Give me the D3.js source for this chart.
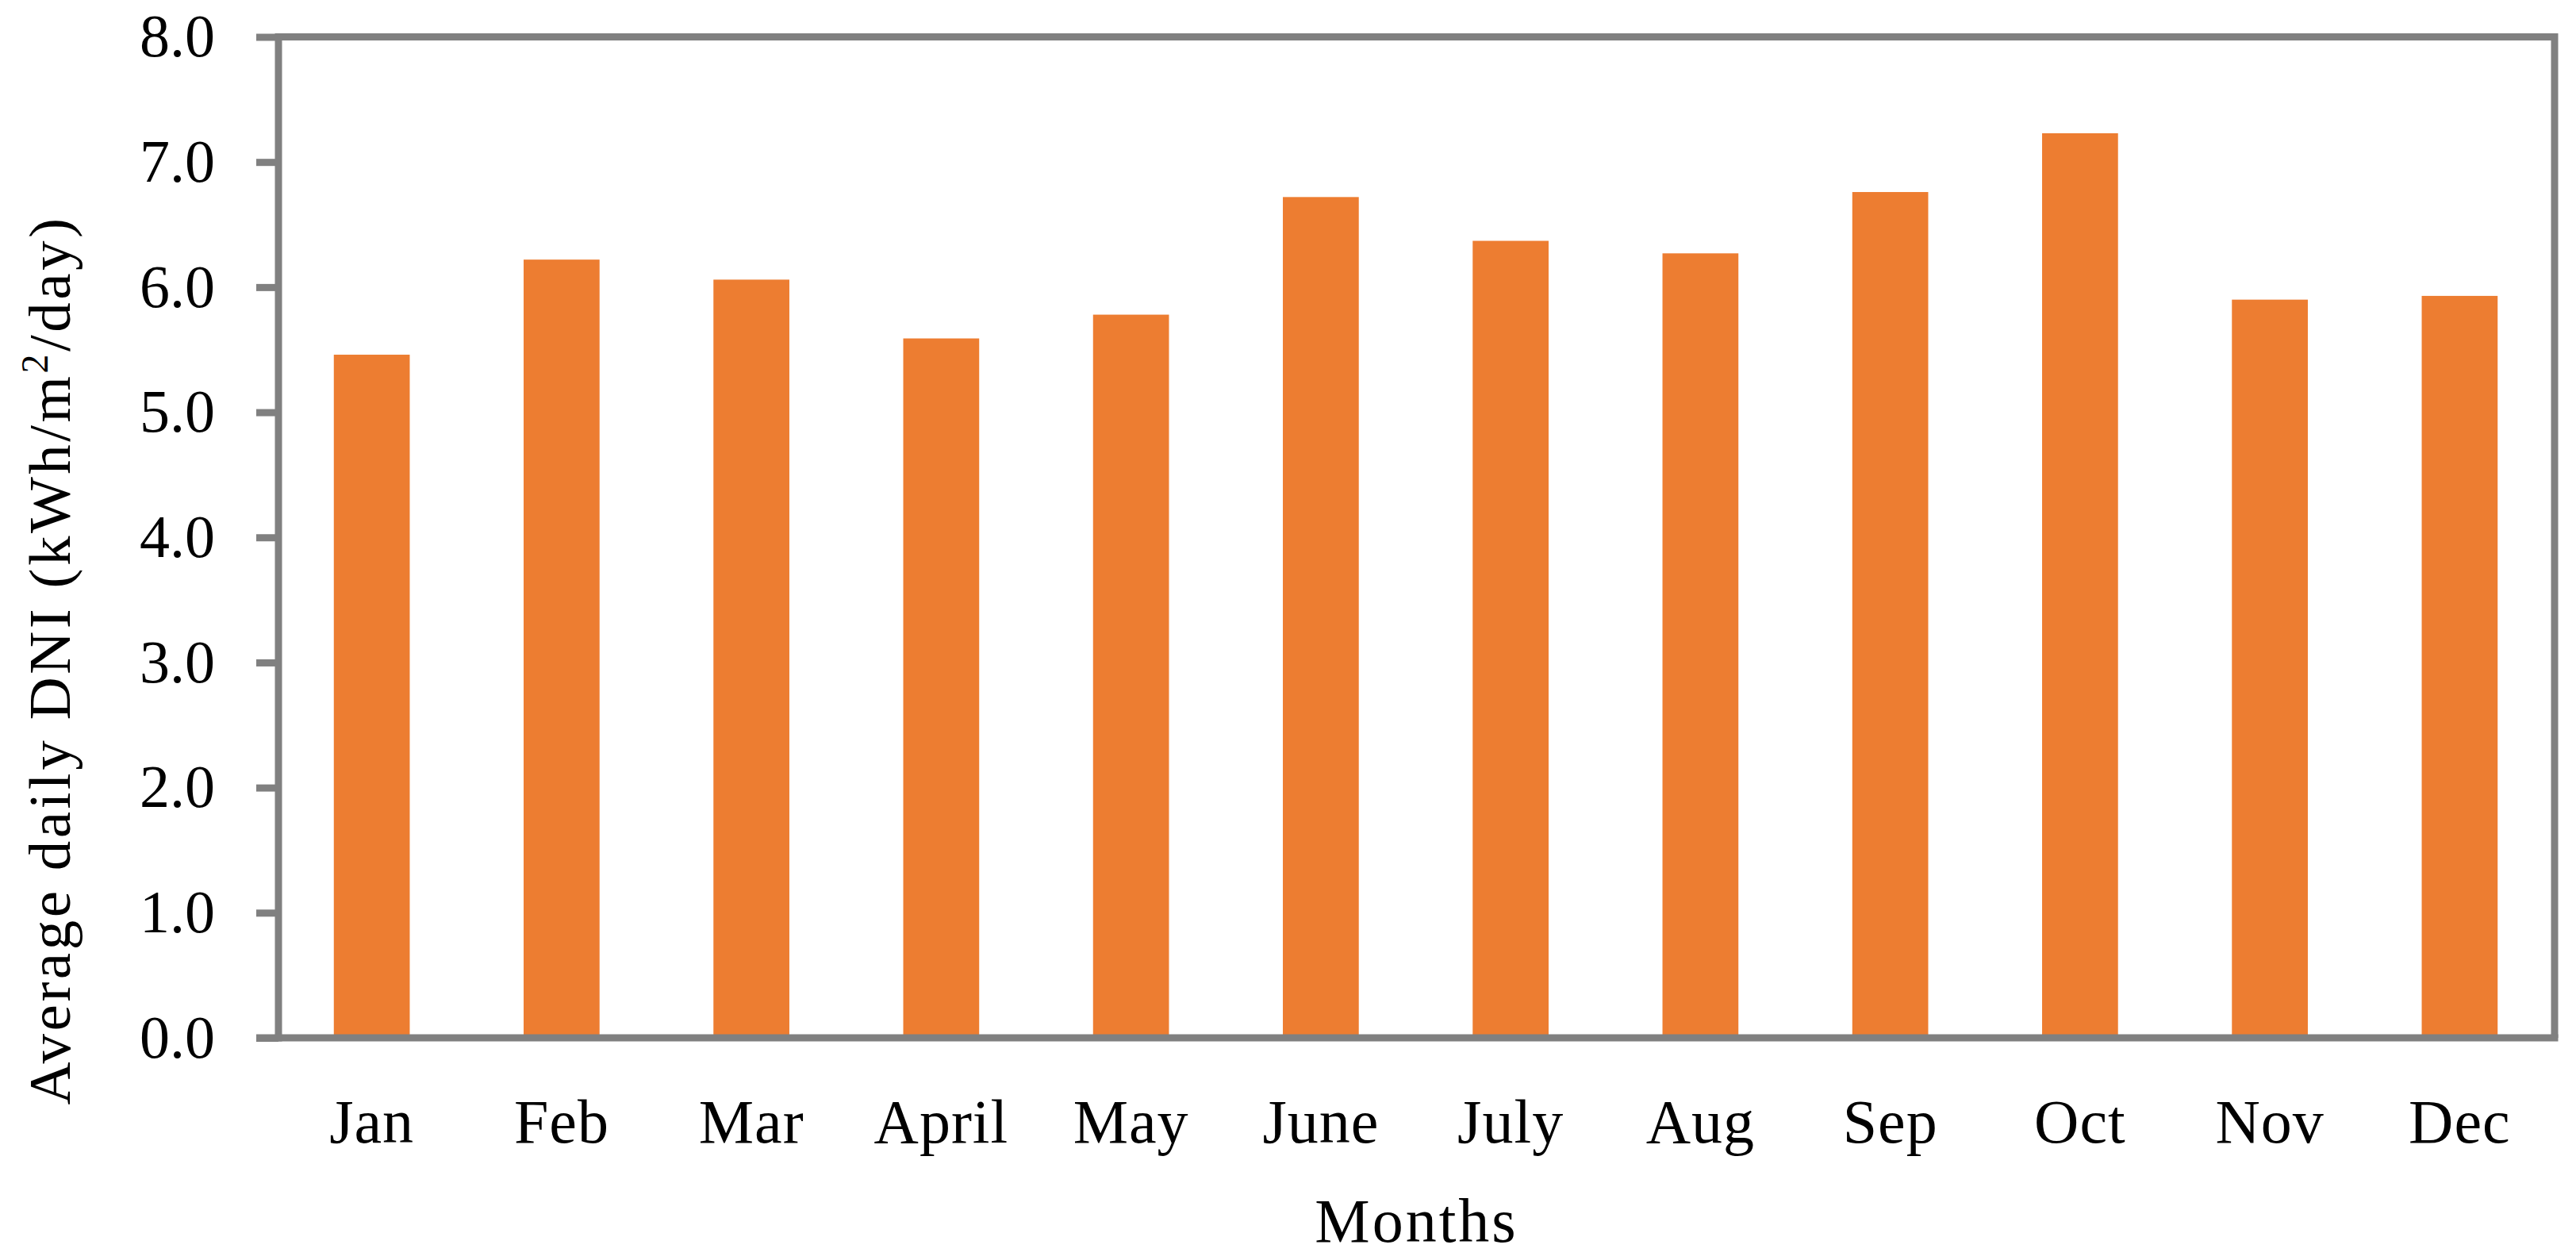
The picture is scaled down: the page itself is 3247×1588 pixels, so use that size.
<!DOCTYPE html>
<html>
<head>
<meta charset="utf-8">
<script src="https://cdn.jsdelivr.net/npm/d3@7"></script>
<style>
  html, body { margin: 0; padding: 0; background: #fff; }
  svg { display: block; }
  text { font-family: "Liberation Serif", "Times New Roman", serif; fill: #000; }
</style>
</head>
<body>
<svg id="chart" width="3247" height="1588"></svg>
<script>
const months = ["Jan", "Feb", "Mar", "April", "May", "June", "July", "Aug", "Sep", "Oct", "Nov", "Dec"];
const dni = [5.46, 6.22, 6.06, 5.59, 5.78, 6.72, 6.37, 6.27, 6.76, 7.23, 5.90, 5.93];
const yTicks = [0, 1, 2, 3, 4, 5, 6, 7, 8];
const xTitle = "Months";
const yTitleParts = ["Average daily DNI (kWh/m", "2", "/day)"];

const svg = d3.select("#chart");
const W = 3247, H = 1588;
const axisX = 351, rightX = 3220, topY = 46.5, baseY = 1308;

const x = d3.scaleBand()
  .domain(months)
  .range([349, rightX])
  .paddingInner(0.6)
  .paddingOuter(0.3);

const y = d3.scaleLinear()
  .domain([0, 8])
  .range([baseY, topY]);

const axisColor = "#808080";
const sw = 9;

// bars
svg.append("g")
  .selectAll("rect")
  .data(dni)
  .join("rect")
  .attr("x", (d, i) => x(months[i]))
  .attr("width", x.bandwidth())
  .attr("y", d => y(d))
  .attr("height", d => y(0) - y(d))
  .attr("fill", "#ED7D31");

// plot frame (top and right border)
svg.append("path")
  .attr("d", `M${axisX},${topY} H${rightX} V${baseY}`)
  .attr("fill", "none")
  .attr("stroke", axisColor)
  .attr("stroke-width", sw);

// y axis
const yAxis = d3.axisLeft(y)
  .tickValues(yTicks)
  .tickFormat(d3.format(".1f"))
  .tickSize(28)
  .tickSizeOuter(0)
  .tickPadding(52);

const gy = svg.append("g")
  .attr("transform", `translate(${axisX},0)`)
  .call(yAxis);
gy.select(".domain")
  .attr("stroke", axisColor)
  .attr("stroke-width", sw)
  .attr("d", `M0,${topY - sw / 2}V${baseY + sw / 2}`);
gy.selectAll(".tick line")
  .attr("stroke", axisColor)
  .attr("stroke-width", sw);
gy.selectAll(".tick text")
  .attr("font-family", "Liberation Serif")
  .attr("font-size", 76)
  .attr("fill", "#000");

// x axis
const xAxis = d3.axisBottom(x)
  .tickSize(0)
  .tickSizeOuter(0)
  .tickPadding(0);
const gx = svg.append("g")
  .attr("transform", `translate(0,${baseY})`)
  .call(xAxis);
gx.select(".domain")
  .attr("stroke", axisColor)
  .attr("stroke-width", sw)
  .attr("d", `M${axisX - 28},0H${rightX + sw / 2}`);
gx.selectAll(".tick text")
  .attr("font-family", "Liberation Serif")
  .attr("font-size", 78)
  .attr("letter-spacing", 1)
  .attr("fill", "#000")
  .attr("dy", null)
  .attr("y", 1440 - baseY);

// x title
svg.append("text")
  .attr("x", (axisX + rightX) / 2)
  .attr("y", 1565)
  .attr("text-anchor", "middle")
  .attr("font-size", 78)
  .attr("letter-spacing", 3)
  .text(xTitle);

// y title
const yt = svg.append("text")
  .attr("transform", `translate(88,832) rotate(-90)`)
  .attr("text-anchor", "middle")
  .attr("font-size", 75)
  .attr("letter-spacing", 3.5);
yt.append("tspan").text(yTitleParts[0]);
yt.append("tspan").attr("font-size", 48).attr("dy", -28).text(yTitleParts[1]);
yt.append("tspan").attr("dy", 28).text(yTitleParts[2]);
</script>
</body>
</html>
